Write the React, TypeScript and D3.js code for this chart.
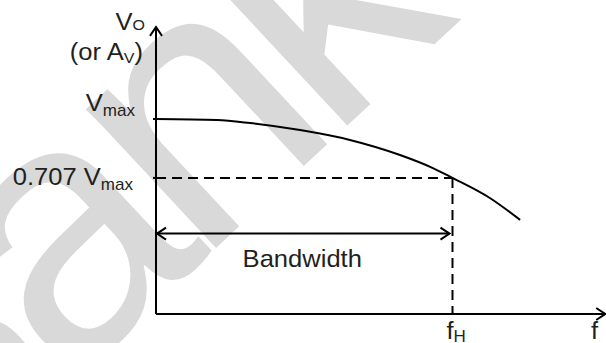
import React from 'react';
import * as d3 from 'd3';

const W = 606;
const H = 343;

// Normalised frequency (f / fH) and normalised output (Vo / Vmax)
const freq = [0, 0.206, 0.317, 0.486, 0.654, 0.823, 0.934, 1.0, 1.126, 1.228];
const gain = [1.0, 0.995, 0.98, 0.945, 0.896, 0.821, 0.756, 0.707, 0.607, 0.498];

const vmaxLevel = 1.0;
const halfPowerLevel = 0.707;
const fH = 1.0;
const bandwidthLevel = 0.43;

const xDomain = [0, 1.5];
const yDomain = [0.03, 1.0];
const xAxisEnd = 1.515;
const yAxisEnd = 1.458;

const TEXT = '#231f20';
const FONT = '"Liberation Sans", Arial, Helvetica, sans-serif';
const SX = 1.065;

function arrowHead(x: number, y: number, angleDeg: number) {
  return (
    <path
      d="M -9,-6 L 0,0 L -9,6"
      transform={`translate(${x},${y}) rotate(${angleDeg})`}
      fill="none"
      stroke="#000"
      strokeWidth={2}
      strokeLinejoin="miter"
    />
  );
}

function Label({ x, y, anchor, children }: { x: number; y: number; anchor?: string; children: any }) {
  return (
    <g transform={`translate(${x},${y}) scale(${SX},1)`}>
      <text x={0} y={0} fontSize={24} fill={TEXT} textAnchor={anchor || 'start'}>
        {children}
      </text>
    </g>
  );
}

export default function App() {
  const x = d3.scaleLinear().domain(xDomain).range([156, 600.75]);
  const y = d3.scaleLinear().domain(yDomain).range([314, 119]);

  const pts: [number, number][] = freq.map((f, i) => [f, gain[i]]);
  const line = d3
    .line<[number, number]>()
    .x((d) => x(d[0]))
    .y((d) => y(d[1]))
    .curve(d3.curveMonotoneX);

  const x0 = x(0);
  const yBase = y(yDomain[0]);
  const xEnd = x(xAxisEnd);
  const yTop = y(yAxisEnd);
  const xfH = x(fH);
  const yHalf = y(halfPowerLevel);
  const yMax = y(vmaxLevel);
  const yBw = y(bandwidthLevel);

  return (
    <svg
      width={W}
      height={H}
      style={{ position: 'absolute', left: 0, top: 0, background: '#fff' }}
      fontFamily={FONT}
    >
      <rect width={W} height={H} fill="#fff" />
      {/* watermark */}
      <text
        x={-95}
        y={538}
        transform="rotate(-43,-95,538)"
        fontSize={360}
        letterSpacing={-20}
        fill="#d9d9d9"
      >
        Bank
      </text>

      {/* axes */}
      <line x1={x0} y1={yBase} x2={xEnd - 1} y2={yBase} stroke="#000" strokeWidth={2} />
      {arrowHead(xEnd, yBase, 0)}
      <line x1={x0} y1={yBase} x2={x0} y2={yTop + 1} stroke="#000" strokeWidth={2} />
      {arrowHead(x0, yTop, -90)}

      {/* small ticks */}
      <line x1={x0 - 3} y1={yMax} x2={x0} y2={yMax} stroke="#000" strokeWidth={2} />
      <line x1={x0 - 3} y1={yHalf} x2={x0} y2={yHalf} stroke="#000" strokeWidth={2} />

      {/* dashed guides */}
      <line x1={x0} y1={yHalf} x2={xfH} y2={yHalf} stroke="#000" strokeWidth={2} strokeDasharray="10,6" />
      <line x1={xfH} y1={yHalf} x2={xfH} y2={yBase} stroke="#000" strokeWidth={2} strokeDasharray="10,6" />

      {/* response curve */}
      <path d={line(pts) || ''} fill="none" stroke="#000" strokeWidth={2} />

      {/* bandwidth arrow */}
      <line x1={x0 + 1} y1={yBw} x2={xfH - 3} y2={yBw} stroke="#000" strokeWidth={2} />
      {arrowHead(x0 + 1, yBw, 180)}
      {arrowHead(xfH - 3, yBw, 0)}
      <Label x={(x0 + xfH) / 2 - 2} y={yBw + 33} anchor="middle">
        Bandwidth
      </Label>

      {/* y labels */}
      <Label x={145} y={30} anchor="end">
        V<tspan fontSize={15} dy={0}>O</tspan>
      </Label>
      <Label x={143} y={60} anchor="end">
        (or A<tspan fontSize={15} dy={3}>V</tspan>
        <tspan dy={-3}>)</tspan>
      </Label>
      <Label x={135} y={yMax - 8} anchor="end">
        V<tspan fontSize={16} dy={5}>max</tspan>
      </Label>
      <Label x={133} y={yHalf + 7} anchor="end">
        0.707 V<tspan fontSize={16} dy={5}>max</tspan>
      </Label>

      {/* x labels */}
      <Label x={xfH - 6} y={339}>
        f<tspan fontSize={16} dy={3}>H</tspan>
      </Label>
      <Label x={591} y={339}>
        f
      </Label>
    </svg>
  );
}
